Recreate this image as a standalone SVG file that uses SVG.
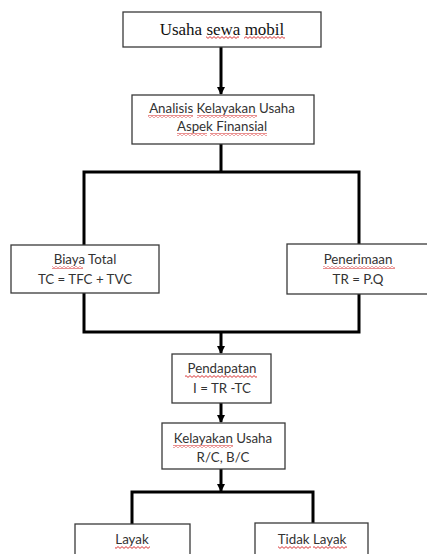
<svg xmlns="http://www.w3.org/2000/svg" width="427" height="554" viewBox="0 0 427 554">
<style>
.box{fill:#fff;stroke:#3a3a3a;stroke-width:1.3}
.t{font-family:Lato,"Open Sans","Liberation Sans",sans-serif;font-size:13.3px;fill:#333;text-anchor:middle}
.ts{font-family:"Liberation Serif",serif;font-size:17px;fill:#111;text-anchor:middle}
.c{fill:none;stroke:#000;stroke-width:3}
.sq{fill:url(#sq)}
</style>
<defs>
<pattern id="sq" width="4" height="3" patternUnits="userSpaceOnUse">
<path d="M0,2.4 L2,0.6 L4,2.4" fill="none" stroke="#d42020" stroke-width="0.9"/>
</pattern>
<marker id="ah" viewBox="0 0 8 8" refX="7" refY="4" markerWidth="8" markerHeight="8" markerUnits="userSpaceOnUse" orient="auto">
<path d="M0,0 L8,4 L0,8 Z" fill="#000"/>
</marker>
</defs>
<rect width="427" height="554" fill="#fff"/>
<g id="connectors">
<path class="c" d="M221,47 V94" marker-end="url(#ah)"/>
<path class="c" d="M221,144 V172 M84,245 V172 H359 V244"/>
<path class="c" d="M84,293 V332 H359 V294 M221,332 V353" marker-end="url(#ah)"/>
<path class="c" d="M221,403 V422" marker-end="url(#ah)"/>
<path class="c" d="M221,469 V491" marker-end="url(#ah)"/>
<path class="c" d="M132,524 V492 H313 V523"/>
</g>
<g id="n1">
<rect class="box" x="123" y="12" width="198" height="35"/>
<text class="ts" x="222" y="35">Usaha sewa mobil</text>
<rect class="sq" x="206" y="36" width="33" height="3"/>
<rect class="sq" x="244" y="36" width="41" height="3"/>
</g>
<g id="n2">
<rect class="box" x="132" y="95" width="182" height="49"/>
<text class="t" x="222" y="113">Analisis Kelayakan Usaha</text>
<text class="t" x="222" y="131">Aspek Finansial</text>
<rect class="sq" x="148" y="115" width="45" height="3"/>
<rect class="sq" x="197" y="115" width="60" height="3"/>
<rect class="sq" x="177" y="133" width="30" height="3"/>
<rect class="sq" x="210" y="133" width="57" height="3"/>
</g>
<g id="n3">
<rect class="box" x="11" y="245" width="148" height="48"/>
<text class="t" x="85" y="264">Biaya Total</text>
<text class="t" x="85" y="284">TC = TFC + TVC</text>
<rect class="sq" x="52" y="266" width="31" height="3"/>
</g>
<g id="n4">
<rect class="box" x="287" y="244" width="145" height="50"/>
<text class="t" x="358" y="264">Penerimaan</text>
<text class="t" x="358" y="284">TR = P.Q</text>
<rect class="sq" x="323" y="266" width="72" height="3"/>
</g>
<g id="n5">
<rect class="box" x="172" y="354" width="99" height="49"/>
<text class="t" x="222" y="373">Pendapatan</text>
<text class="t" x="222" y="393">I = TR -TC</text>
<rect class="sq" x="185" y="375" width="72" height="3"/>
</g>
<g id="n6">
<rect class="box" x="162" y="423" width="123" height="46"/>
<text class="t" x="223" y="443">Kelayakan Usaha</text>
<text class="t" x="223" y="462">R/C, B/C</text>
<rect class="sq" x="173" y="445" width="60" height="3"/>
</g>
<g id="n7">
<rect class="box" x="75" y="524" width="115" height="40"/>
<text class="t" x="132" y="544">Layak</text>
<rect class="sq" x="115" y="546" width="35" height="3"/>
</g>
<g id="n8">
<rect class="box" x="255" y="523" width="113" height="40"/>
<text class="t" x="312" y="544">Tidak Layak</text>
<rect class="sq" x="278" y="546" width="33" height="3"/>
<rect class="sq" x="313" y="546" width="34" height="3"/>
</g>
</svg>
